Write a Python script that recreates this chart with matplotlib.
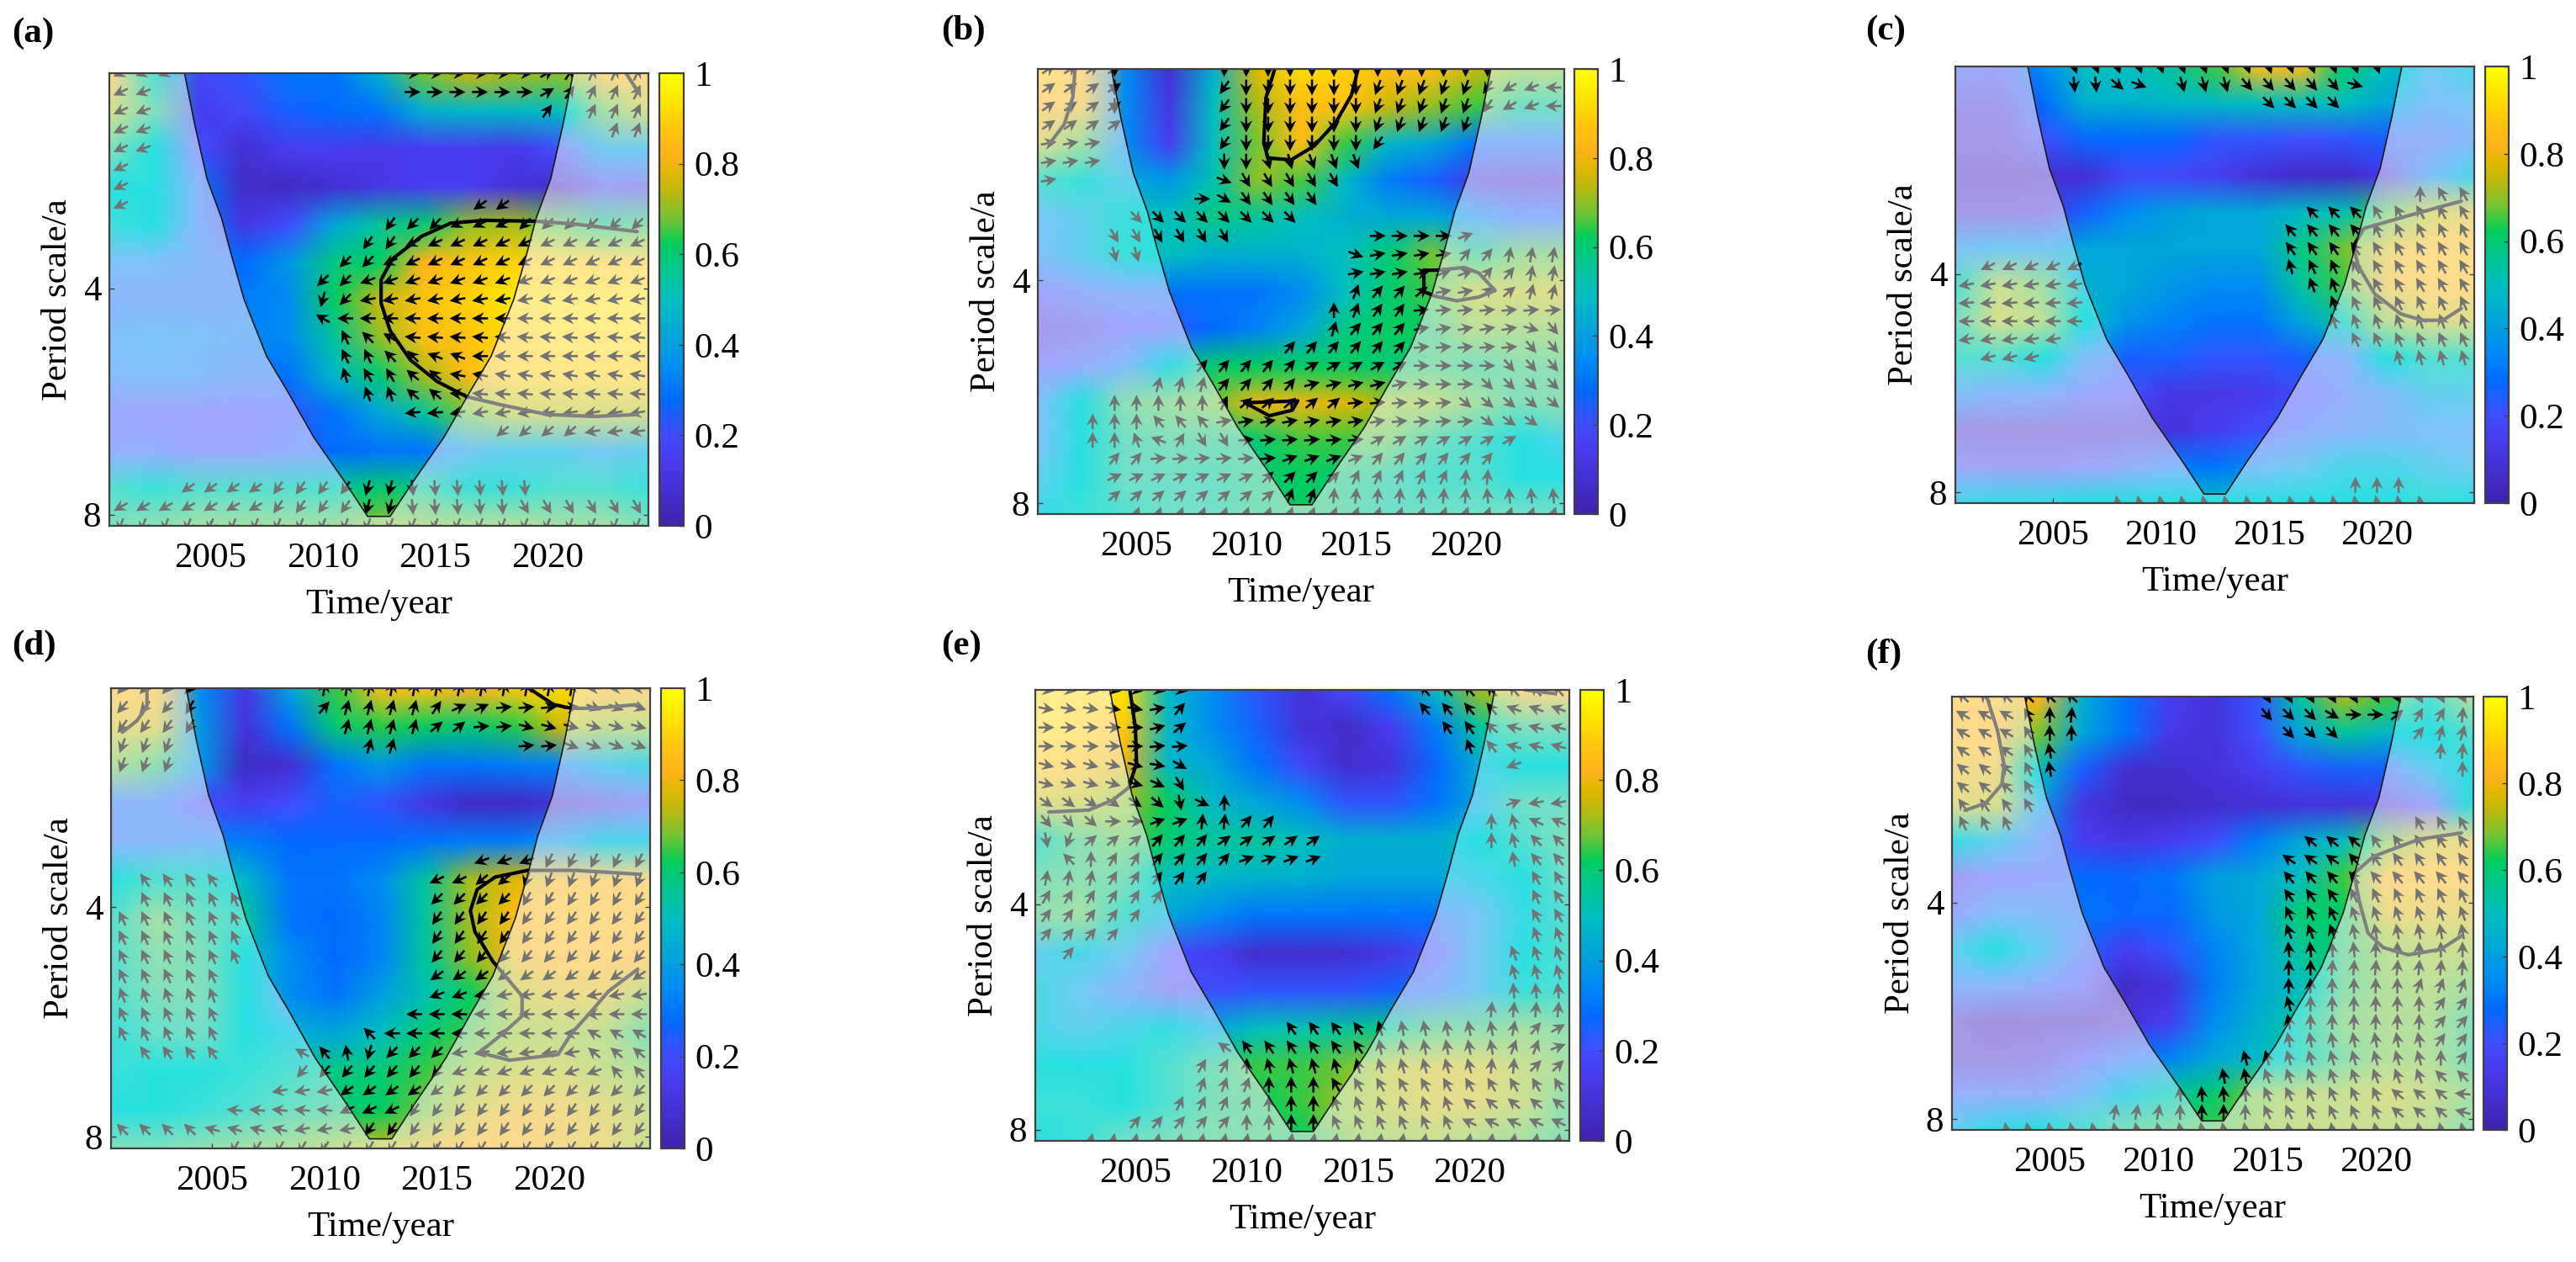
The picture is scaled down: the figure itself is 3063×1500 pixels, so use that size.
import numpy as np
import matplotlib
matplotlib.use('Agg')
import matplotlib.pyplot as plt
from matplotlib.colors import LinearSegmentedColormap
from matplotlib.patches import Polygon

plt.rcParams['font.family'] = ['Liberation Serif', 'DejaVu Serif']
plt.rcParams['font.size'] = 31

W, H = 3063, 1500

# grid of the coherence values (percent), rows go from top to bottom of a panel
col_years = [2000.5, 2002.5, 2004.5, 2006.5, 2008.5, 2010.5, 2012.5, 2014.5, 2016.5, 2018.5, 2020.5, 2022.5, 2024.5]
row_index = [0, 2, 4, 6, 8, 10, 12, 14, 16, 18, 20, 22, 24]

coh_a = [
    [85, 55, 18, 22, 30, 30, 45, 68, 75, 72, 70, 85, 85],
    [75, 60, 15, 18, 25, 28, 30, 45, 48, 48, 50, 65, 75],
    [60, 50, 20, 8, 15, 15, 13, 15, 15, 13, 20, 40, 40],
    [50, 50, 30, 6, 5, 8, 12, 15, 15, 10, 8, 18, 15],
    [52, 50, 30, 12, 20, 42, 55, 60, 70, 72, 65, 60, 62],
    [35, 35, 32, 28, 38, 58, 62, 82, 87, 90, 92, 90, 90],
    [30, 30, 30, 32, 35, 62, 75, 87, 90, 95, 97, 97, 97],
    [35, 37, 35, 33, 35, 55, 70, 85, 87, 92, 95, 95, 95],
    [33, 33, 33, 30, 30, 48, 60, 72, 85, 92, 92, 92, 92],
    [22, 20, 20, 20, 22, 30, 42, 55, 68, 75, 75, 75, 75],
    [25, 25, 22, 22, 25, 28, 30, 30, 38, 42, 42, 38, 42],
    [55, 52, 55, 55, 55, 55, 60, 58, 52, 52, 55, 55, 52],
    [60, 62, 65, 65, 65, 65, 70, 70, 68, 68, 65, 65, 60],
]
coh_b = [
    [92, 85, 35, 8, 45, 78, 92, 90, 85, 85, 75, 70, 70],
    [85, 82, 35, 12, 50, 72, 85, 86, 75, 70, 65, 58, 58],
    [78, 65, 35, 15, 50, 68, 85, 65, 48, 42, 30, 30, 30],
    [55, 52, 42, 38, 52, 70, 66, 48, 32, 25, 13, 10, 12],
    [38, 42, 52, 50, 58, 55, 50, 45, 43, 43, 35, 28, 28],
    [35, 42, 52, 50, 45, 45, 45, 50, 60, 68, 60, 65, 65],
    [20, 25, 30, 30, 30, 30, 35, 50, 60, 65, 75, 75, 78],
    [12, 15, 20, 22, 28, 33, 42, 58, 62, 62, 70, 68, 68],
    [20, 25, 33, 48, 60, 62, 62, 62, 60, 62, 60, 62, 62],
    [35, 50, 62, 65, 68, 80, 80, 78, 72, 72, 65, 60, 62],
    [35, 50, 58, 60, 60, 60, 65, 65, 65, 58, 55, 50, 45],
    [42, 50, 58, 58, 58, 60, 62, 60, 58, 55, 55, 50, 50],
    [48, 52, 55, 58, 58, 60, 62, 60, 58, 58, 58, 58, 58],
]
coh_c = [
    [25, 20, 35, 50, 50, 55, 65, 85, 85, 60, 50, 40, 45],
    [13, 13, 28, 45, 45, 47, 48, 50, 50, 50, 42, 35, 38],
    [10, 10, 20, 27, 28, 27, 22, 22, 20, 22, 25, 25, 32],
    [8, 8, 8, 8, 18, 18, 16, 9, 6, 6, 13, 35, 45],
    [10, 10, 12, 25, 35, 40, 42, 42, 48, 52, 65, 75, 80],
    [35, 40, 38, 42, 42, 42, 42, 42, 58, 68, 80, 87, 87],
    [55, 72, 65, 45, 42, 38, 35, 35, 55, 65, 82, 87, 87],
    [58, 75, 70, 50, 37, 33, 30, 30, 42, 55, 70, 78, 75],
    [55, 55, 50, 35, 25, 25, 22, 22, 25, 30, 50, 55, 55],
    [35, 30, 30, 22, 20, 12, 12, 13, 20, 25, 33, 42, 42],
    [10, 10, 10, 10, 12, 10, 15, 20, 25, 30, 33, 35, 35],
    [22, 18, 18, 20, 25, 32, 30, 35, 40, 45, 45, 42, 40],
    [45, 48, 48, 50, 50, 50, 50, 50, 50, 50, 50, 52, 50],
]
coh_d = [
    [85, 85, 35, 12, 42, 65, 85, 87, 82, 88, 92, 85, 85],
    [80, 78, 38, 10, 30, 60, 64, 62, 60, 64, 76, 72, 72],
    [68, 62, 38, 5, 8, 30, 38, 30, 30, 32, 33, 42, 45],
    [30, 30, 20, 15, 20, 25, 22, 12, 5, 5, 10, 15, 18],
    [30, 32, 33, 32, 28, 27, 28, 30, 32, 32, 38, 45, 45],
    [50, 55, 55, 47, 30, 30, 35, 55, 72, 78, 85, 85, 85],
    [55, 65, 58, 55, 30, 28, 33, 55, 72, 85, 87, 87, 85],
    [55, 62, 60, 50, 35, 28, 33, 55, 70, 82, 85, 85, 85],
    [55, 60, 60, 50, 35, 30, 40, 52, 62, 75, 80, 80, 70],
    [52, 57, 58, 50, 45, 42, 50, 60, 65, 72, 72, 70, 60],
    [52, 50, 50, 52, 55, 58, 60, 65, 72, 75, 75, 72, 68],
    [50, 50, 52, 55, 58, 60, 62, 68, 78, 82, 82, 78, 72],
    [60, 60, 62, 65, 68, 72, 75, 82, 85, 85, 82, 80, 72],
]
coh_e = [
    [95, 95, 93, 48, 35, 22, 10, 18, 30, 50, 72, 85, 85],
    [95, 93, 88, 48, 35, 25, 10, 6, 15, 32, 55, 60, 60],
    [90, 88, 80, 48, 42, 30, 18, 7, 10, 27, 45, 50, 50],
    [78, 75, 72, 62, 48, 42, 35, 22, 22, 30, 42, 58, 58],
    [55, 62, 65, 60, 55, 55, 50, 45, 45, 45, 50, 55, 60],
    [60, 62, 60, 50, 48, 46, 45, 42, 42, 42, 45, 50, 58],
    [62, 65, 55, 42, 35, 30, 30, 30, 30, 30, 38, 48, 55],
    [42, 45, 40, 20, 15, 7, 7, 8, 12, 20, 40, 50, 55],
    [45, 40, 30, 18, 20, 22, 22, 22, 25, 30, 40, 52, 55],
    [45, 42, 45, 48, 42, 50, 52, 55, 58, 62, 62, 65, 62],
    [50, 50, 50, 55, 60, 65, 65, 68, 75, 78, 78, 72, 65],
    [52, 52, 50, 55, 60, 62, 65, 72, 75, 78, 78, 72, 62],
    [50, 52, 58, 60, 62, 62, 62, 68, 70, 72, 68, 65, 60],
]
coh_f = [
    [85, 87, 82, 45, 30, 15, 10, 22, 55, 72, 65, 55, 68],
    [85, 85, 68, 42, 30, 13, 10, 20, 42, 55, 48, 50, 55],
    [82, 82, 50, 25, 8, 7, 10, 15, 22, 25, 25, 42, 50],
    [78, 75, 40, 12, 5, 5, 7, 8, 10, 10, 12, 20, 50],
    [48, 42, 30, 15, 12, 15, 20, 32, 42, 50, 68, 78, 80],
    [15, 20, 22, 28, 27, 30, 40, 42, 50, 65, 85, 87, 85],
    [22, 33, 33, 30, 27, 27, 38, 42, 60, 62, 80, 80, 78],
    [42, 50, 42, 25, 15, 22, 33, 42, 55, 62, 70, 72, 72],
    [30, 30, 25, 20, 6, 10, 32, 42, 50, 62, 68, 70, 65],
    [10, 7, 8, 8, 10, 15, 35, 45, 55, 65, 68, 68, 60],
    [10, 10, 12, 20, 28, 33, 42, 48, 55, 62, 68, 68, 60],
    [25, 25, 25, 35, 45, 55, 60, 68, 72, 72, 75, 72, 65],
    [42, 48, 50, 55, 60, 62, 65, 70, 72, 72, 72, 70, 62],
]

# phase arrows: first year, last year, first row, last row, angle in degrees
arrows_a = [
    (2001, 2001, 0, 7, 205), (2002, 2002, 0, 4, 200), (2003, 2003, 0, 0, 200),
    (2014, 2019, 0, 1, 0), (2020, 2020, 0, 1, 30), (2021, 2021, 0, 1, 55),
    (2022, 2024, 0, 2, 65), (2020, 2020, 2, 2, 55), (2023, 2024, 3, 3, 70),
    (2017, 2018, 7, 7, 215),
    (2013, 2013, 8, 8, 235), (2014, 2015, 8, 8, 225), (2016, 2018, 8, 8, 205), (2019, 2024, 8, 8, 225),
    (2012, 2013, 9, 9, 235), (2014, 2024, 9, 9, 205),
    (2011, 2012, 10, 10, 225), (2013, 2024, 10, 10, 205),
    (2010, 2011, 11, 11, 225), (2012, 2024, 11, 11, 200),
    (2010, 2010, 12, 12, 255), (2011, 2011, 12, 12, 225), (2012, 2024, 12, 12, 190),
    (2010, 2010, 13, 13, 150), (2011, 2024, 13, 13, 180),
    (2011, 2011, 14, 14, 115), (2012, 2012, 14, 14, 135), (2013, 2013, 14, 14, 150), (2014, 2024, 14, 14, 175),
    (2011, 2012, 15, 15, 115), (2013, 2014, 15, 15, 135), (2015, 2016, 15, 15, 160), (2017, 2024, 15, 15, 180),
    (2011, 2011, 16, 16, 105), (2012, 2013, 16, 16, 120), (2014, 2015, 16, 16, 140), (2016, 2024, 16, 16, 170),
    (2012, 2013, 17, 17, 110), (2014, 2015, 17, 17, 140), (2016, 2024, 17, 17, 175),
    (2014, 2015, 18, 18, 185), (2016, 2024, 18, 18, 190),
    (2018, 2021, 19, 19, 220), (2022, 2024, 19, 19, 190),
    (2004, 2007, 22, 22, 215), (2008, 2011, 22, 22, 235), (2012, 2013, 22, 22, 255), (2014, 2019, 22, 22, 275),
    (2001, 2007, 23, 23, 210), (2008, 2011, 23, 23, 235), (2012, 2013, 23, 23, 255), (2014, 2018, 23, 23, 275), (2019, 2024, 23, 23, 300),
    (2001, 2024, 24, 24, 250),
]
arrows_b = [
    (2001, 2004, 0, 3, 35), (2001, 2003, 4, 5, 10), (2001, 2001, 6, 6, 10),
    (2004, 2004, 0, 2, 270), (2009, 2009, 0, 0, 270), (2009, 2009, 1, 4, 235),
    (2010, 2015, 0, 4, 270), (2016, 2021, 0, 0, 270), (2016, 2019, 1, 3, 250), (2020, 2020, 1, 2, 250), (2021, 2021, 1, 2, 235),
    (2022, 2022, 1, 2, 210), (2023, 2023, 1, 2, 200), (2024, 2024, 1, 2, 180), (2020, 2020, 3, 3, 250), (2016, 2016, 4, 4, 235),
    (2009, 2010, 5, 5, 270), (2011, 2012, 5, 5, 285), (2013, 2015, 5, 5, 290),
    (2009, 2009, 6, 6, 340), (2010, 2014, 6, 6, 300),
    (2008, 2008, 7, 7, 0), (2009, 2009, 7, 7, 330), (2010, 2013, 7, 7, 305),
    (2005, 2012, 8, 8, 315), (2004, 2009, 9, 9, 300), (2004, 2005, 10, 10, 285),
    (2016, 2019, 9, 9, 0), (2020, 2020, 9, 9, 20),
    (2015, 2015, 10, 10, 340), (2016, 2019, 10, 10, 10), (2020, 2021, 10, 10, 50), (2022, 2024, 10, 10, 80),
    (2015, 2018, 11, 11, 10), (2019, 2020, 11, 11, 20), (2021, 2022, 11, 11, 50), (2023, 2024, 11, 11, 80),
    (2015, 2015, 12, 12, 70), (2016, 2017, 12, 12, 50), (2018, 2018, 12, 12, 40), (2019, 2020, 12, 12, 10), (2021, 2022, 12, 12, 40), (2023, 2024, 12, 12, 75),
    (2014, 2014, 13, 13, 90), (2015, 2015, 13, 13, 70), (2016, 2017, 13, 13, 55), (2018, 2024, 13, 13, 5),
    (2014, 2014, 14, 14, 75), (2015, 2017, 14, 14, 50), (2018, 2022, 14, 14, 10), (2023, 2023, 14, 14, 345), (2024, 2024, 14, 14, 310),
    (2012, 2017, 15, 15, 50), (2018, 2022, 15, 15, 5), (2023, 2024, 15, 15, 310),
    (2008, 2012, 16, 16, 50), (2013, 2017, 16, 16, 30), (2018, 2021, 16, 16, 0), (2022, 2024, 16, 16, 310),
    (2006, 2008, 17, 17, 75), (2009, 2012, 17, 17, 50), (2013, 2017, 17, 17, 15), (2018, 2020, 17, 17, 0), (2021, 2024, 17, 17, 315),
    (2004, 2008, 18, 18, 90), (2009, 2009, 18, 18, 65), (2010, 2014, 18, 18, 40), (2015, 2019, 18, 18, 5), (2020, 2024, 18, 18, 320),
    (2003, 2005, 19, 19, 90), (2006, 2008, 19, 19, 130), (2009, 2016, 19, 19, 10), (2017, 2020, 19, 19, 5), (2021, 2023, 19, 19, 325),
    (2003, 2004, 20, 20, 90), (2005, 2005, 20, 20, 110), (2006, 2006, 20, 20, 160), (2007, 2007, 20, 20, 60), (2008, 2009, 20, 20, 300), (2010, 2015, 20, 20, 5), (2016, 2022, 20, 20, 30),
    (2004, 2005, 21, 21, 50), (2006, 2011, 21, 21, 5), (2012, 2015, 21, 21, 20), (2016, 2021, 21, 21, 50),
    (2004, 2010, 22, 22, 25), (2011, 2014, 22, 22, 45), (2015, 2019, 22, 22, 65), (2020, 2021, 22, 22, 85),
    (2004, 2011, 23, 23, 40), (2012, 2013, 23, 23, 70), (2014, 2020, 23, 23, 85), (2021, 2024, 23, 23, 95),
    (2005, 2024, 24, 24, 70),
]
arrows_c = [
    (2006, 2020, 0, 0, 290),
    (2006, 2007, 1, 1, 275), (2008, 2008, 1, 1, 320), (2009, 2009, 1, 1, 340), (2011, 2013, 1, 1, 285), (2014, 2018, 1, 1, 310), (2019, 2019, 1, 1, 345),
    (2015, 2018, 2, 2, 315),
    (2022, 2022, 7, 7, 90), (2023, 2024, 7, 7, 120),
    (2017, 2019, 8, 8, 135), (2020, 2024, 8, 8, 120),
    (2016, 2019, 9, 9, 130), (2020, 2024, 9, 9, 115),
    (2016, 2019, 10, 10, 125), (2020, 2024, 10, 10, 120),
    (2016, 2016, 11, 11, 105), (2017, 2018, 11, 11, 115), (2019, 2024, 11, 11, 120), (2002, 2006, 11, 11, 205),
    (2017, 2018, 12, 12, 110), (2019, 2024, 12, 12, 120), (2001, 2006, 12, 12, 190),
    (2018, 2018, 13, 13, 110), (2019, 2024, 13, 13, 115), (2001, 2006, 13, 13, 185),
    (2018, 2024, 14, 14, 110), (2001, 2006, 14, 14, 180),
    (2019, 2024, 15, 15, 115), (2001, 2005, 15, 15, 190),
    (2021, 2024, 16, 16, 105), (2002, 2004, 16, 16, 195),
    (2019, 2021, 23, 23, 90), (2008, 2022, 24, 24, 100),
]
arrows_d = [
    (2001, 2004, 0, 0, 230), (2010, 2021, 0, 0, 80), (2022, 2024, 0, 0, 180),
    (2001, 2003, 1, 1, 230), (2004, 2004, 1, 1, 240), (2010, 2010, 1, 1, 50), (2011, 2014, 1, 1, 75), (2015, 2015, 1, 1, 55), (2016, 2017, 1, 1, 25), (2018, 2021, 1, 1, 5), (2022, 2024, 1, 1, 340),
    (2001, 2003, 2, 2, 235), (2004, 2004, 2, 2, 240), (2011, 2014, 2, 2, 75), (2015, 2016, 2, 2, 40), (2017, 2018, 2, 2, 5), (2019, 2024, 2, 2, 345),
    (2001, 2003, 3, 3, 250), (2012, 2013, 3, 3, 75), (2019, 2020, 3, 3, 5), (2021, 2024, 3, 3, 340),
    (2001, 2003, 4, 4, 250),
    (2017, 2019, 9, 9, 200), (2020, 2024, 9, 9, 245),
    (2002, 2005, 10, 10, 125), (2015, 2016, 10, 10, 205), (2017, 2018, 10, 10, 220), (2019, 2024, 10, 10, 250),
    (2002, 2006, 11, 11, 115), (2015, 2018, 11, 11, 225), (2019, 2024, 11, 11, 240),
    (2001, 2006, 12, 12, 115), (2015, 2024, 12, 12, 235),
    (2001, 2006, 13, 13, 115), (2015, 2024, 13, 13, 235),
    (2001, 2006, 14, 14, 115), (2015, 2024, 14, 14, 230),
    (2001, 2005, 15, 15, 115), (2015, 2024, 15, 15, 215),
    (2001, 2005, 16, 16, 110), (2015, 2016, 16, 16, 200), (2017, 2024, 16, 16, 190),
    (2001, 2005, 17, 17, 115), (2014, 2024, 17, 17, 180),
    (2001, 2005, 18, 18, 115), (2012, 2012, 18, 18, 135), (2013, 2021, 18, 18, 180), (2022, 2024, 18, 18, 150),
    (2002, 2005, 19, 19, 125), (2009, 2009, 19, 19, 150), (2010, 2010, 19, 19, 130), (2011, 2011, 19, 19, 100), (2012, 2012, 19, 19, 255), (2013, 2015, 19, 19, 225), (2016, 2021, 19, 19, 190), (2022, 2024, 19, 19, 140),
    (2009, 2015, 20, 20, 230), (2016, 2022, 20, 20, 200), (2023, 2024, 20, 20, 130),
    (2008, 2010, 21, 21, 190), (2011, 2015, 21, 21, 215), (2016, 2024, 21, 21, 225),
    (2006, 2010, 22, 22, 175), (2011, 2013, 22, 22, 205), (2014, 2024, 22, 22, 235),
    (2001, 2004, 23, 23, 135), (2005, 2008, 23, 23, 165), (2009, 2011, 23, 23, 190), (2012, 2024, 23, 23, 235),
    (2006, 2024, 24, 24, 240),
]
arrows_e = [
    (2001, 2007, 0, 0, 350), (2018, 2024, 0, 0, 130),
    (2001, 2005, 1, 1, 350), (2006, 2006, 1, 1, 10), (2007, 2007, 1, 1, 50), (2018, 2021, 1, 1, 130), (2022, 2024, 1, 1, 160),
    (2001, 2005, 2, 2, 0), (2006, 2006, 2, 2, 15), (2007, 2007, 2, 2, 40), (2019, 2020, 2, 2, 125), (2021, 2021, 2, 2, 140), (2022, 2024, 2, 2, 165),
    (2001, 2005, 3, 3, 0), (2006, 2007, 3, 3, 5), (2020, 2020, 3, 3, 110), (2021, 2021, 3, 3, 130), (2022, 2024, 3, 3, 165),
    (2001, 2005, 4, 4, 345), (2006, 2006, 4, 4, 350), (2007, 2007, 4, 4, 330), (2022, 2022, 4, 4, 200),
    (2001, 2005, 5, 5, 345), (2006, 2006, 5, 5, 335), (2007, 2007, 5, 5, 300),
    (2001, 2005, 6, 6, 325), (2006, 2006, 6, 6, 320), (2007, 2007, 6, 6, 280), (2008, 2008, 6, 6, 335), (2009, 2009, 6, 6, 90), (2022, 2022, 6, 6, 20), (2023, 2024, 6, 6, 190),
    (2001, 2002, 7, 7, 310), (2003, 2003, 7, 7, 320), (2004, 2005, 7, 7, 0), (2006, 2007, 7, 7, 20), (2008, 2009, 7, 7, 85), (2010, 2011, 7, 7, 50), (2021, 2021, 7, 7, 90), (2022, 2022, 7, 7, 105), (2023, 2024, 7, 7, 155),
    (2001, 2001, 8, 8, 280), (2002, 2002, 8, 8, 250), (2003, 2005, 8, 8, 40), (2006, 2008, 8, 8, 50), (2009, 2013, 8, 8, 35), (2021, 2021, 8, 8, 90), (2022, 2022, 8, 8, 105), (2023, 2024, 8, 8, 135),
    (2002, 2002, 9, 9, 135), (2003, 2003, 9, 9, 90), (2004, 2005, 9, 9, 60), (2006, 2009, 9, 9, 50), (2010, 2013, 9, 9, 20), (2022, 2022, 9, 9, 100), (2023, 2024, 9, 9, 130),
    (2001, 2003, 10, 10, 80), (2004, 2005, 10, 10, 60), (2006, 2008, 10, 10, 55), (2023, 2024, 10, 10, 120),
    (2001, 2006, 11, 11, 60), (2023, 2023, 11, 11, 115), (2024, 2024, 11, 11, 125),
    (2001, 2005, 12, 12, 55), (2023, 2024, 12, 12, 120),
    (2001, 2004, 13, 13, 50), (2023, 2024, 13, 13, 110),
    (2002, 2002, 14, 14, 50), (2022, 2024, 14, 14, 110),
    (2022, 2024, 15, 15, 105), (2022, 2024, 16, 16, 95), (2021, 2024, 17, 17, 85),
    (2012, 2015, 18, 18, 125), (2016, 2016, 18, 18, 105), (2017, 2021, 18, 18, 100), (2022, 2022, 18, 18, 80), (2023, 2023, 18, 18, 50), (2024, 2024, 18, 18, 30),
    (2009, 2009, 19, 19, 145), (2010, 2015, 19, 19, 125), (2016, 2021, 19, 19, 100), (2022, 2023, 19, 19, 70), (2024, 2024, 19, 19, 20),
    (2008, 2009, 20, 20, 60), (2010, 2010, 20, 20, 90), (2011, 2020, 20, 20, 105), (2021, 2022, 20, 20, 85), (2023, 2024, 20, 20, 45),
    (2008, 2010, 21, 21, 70), (2011, 2013, 21, 21, 90), (2014, 2024, 21, 21, 120),
    (2007, 2010, 22, 22, 65), (2011, 2013, 22, 22, 90), (2014, 2019, 22, 22, 110), (2020, 2024, 22, 22, 140),
    (2005, 2009, 23, 23, 50), (2010, 2013, 23, 23, 90), (2014, 2019, 23, 23, 115), (2020, 2024, 23, 23, 155),
    (2003, 2024, 24, 24, 80),
]
arrows_f = [
    (2001, 2006, 0, 0, 135), (2015, 2024, 0, 0, 300),
    (2001, 2003, 1, 1, 150), (2004, 2004, 1, 1, 120), (2005, 2005, 1, 1, 90), (2006, 2006, 1, 1, 85), (2015, 2015, 1, 1, 310), (2016, 2017, 1, 1, 315), (2018, 2018, 1, 1, 330), (2019, 2020, 1, 1, 0), (2021, 2021, 1, 1, 40), (2022, 2023, 1, 1, 60), (2024, 2024, 1, 1, 85),
    (2001, 2003, 2, 2, 150), (2004, 2004, 2, 2, 120), (2005, 2006, 2, 2, 90), (2016, 2018, 2, 2, 315), (2022, 2022, 2, 2, 50), (2023, 2024, 2, 2, 75),
    (2001, 2003, 3, 3, 145), (2004, 2004, 3, 3, 120), (2005, 2005, 3, 3, 100), (2023, 2024, 3, 3, 85),
    (2001, 2003, 4, 4, 140), (2004, 2004, 4, 4, 115), (2005, 2005, 4, 4, 100), (2024, 2024, 4, 4, 90),
    (2001, 2003, 5, 5, 140), (2004, 2004, 5, 5, 120),
    (2001, 2003, 6, 6, 125), (2004, 2004, 6, 6, 120),
    (2001, 2003, 7, 7, 115), (2022, 2024, 7, 7, 120),
    (2017, 2019, 8, 8, 140), (2020, 2024, 8, 8, 125),
    (2016, 2018, 9, 9, 145), (2019, 2019, 9, 9, 130), (2020, 2024, 9, 9, 125),
    (2016, 2024, 10, 10, 130),
    (2016, 2018, 11, 11, 125), (2019, 2024, 11, 11, 115),
    (2016, 2018, 12, 12, 115), (2019, 2024, 12, 12, 110),
    (2016, 2018, 13, 13, 110), (2019, 2024, 13, 13, 100),
    (2016, 2019, 14, 14, 95), (2020, 2024, 14, 14, 90),
    (2016, 2017, 15, 15, 90), (2018, 2024, 15, 15, 85),
    (2016, 2021, 16, 16, 90), (2022, 2024, 16, 16, 70),
    (2016, 2016, 17, 17, 105), (2017, 2022, 17, 17, 90), (2023, 2024, 17, 17, 55),
    (2016, 2016, 18, 18, 100), (2017, 2022, 18, 18, 90), (2023, 2024, 18, 18, 50),
    (2016, 2022, 19, 19, 100), (2023, 2024, 19, 19, 55),
    (2014, 2022, 20, 20, 105), (2023, 2023, 20, 20, 90), (2024, 2024, 20, 20, 55),
    (2013, 2014, 21, 21, 100), (2015, 2022, 21, 21, 110), (2023, 2024, 21, 21, 135),
    (2011, 2014, 22, 22, 95), (2015, 2020, 22, 22, 115), (2021, 2023, 22, 22, 140), (2024, 2024, 22, 22, 175),
    (2008, 2010, 23, 23, 80), (2011, 2014, 23, 23, 90), (2015, 2020, 23, 23, 115), (2021, 2023, 23, 23, 140), (2024, 2024, 23, 23, 165),
    (2003, 2024, 24, 24, 100),
]

# significance contours as (year, row)
lines_a = [
    [(2024, 8.4), (2021.25, 8), (2019.5, 7.85), (2017.2, 7.8), (2015.7, 7.95), (2014.4, 8.65), (2013.1, 9.85), (2012.6, 10.95), (2012.6, 12.2), (2013, 13.65), (2013.9, 15.2), (2015.1, 16.35), (2016.4, 17.15), (2018, 17.6), (2020, 18.1), (2022.1, 18.2), (2024, 18.1)],
    [(2023.5, 0), (2024.1, 1.1)],
]
lines_b = [
    [(2002.2, 0), (2002.1, 1.5), (2001.7, 3), (2001.05, 4)],
    [(2011.3, 0), (2010.9, 1.55), (2010.8, 4), (2011, 4.8), (2012.05, 4.9), (2013.1, 4.15), (2014.1, 2.85), (2014.8, 1.4), (2015.1, 0)],
    [(2009.95, 18), (2012.35, 17.9), (2012.1, 18.4), (2011.05, 18.7), (2009.95, 18)],
    [(2018.1, 10.85), (2018.7, 10.85), (2019.95, 10.7), (2020.6, 11), (2021.35, 11.95), (2020.6, 12.3), (2019.6, 12.5), (2018.6, 12.25), (2018.1, 12), (2018.1, 10.85)],
]
lines_c = [
    [(2023.9, 7.4), (2021.45, 8.2), (2019.4, 8.9), (2018.9, 9.9), (2019.15, 11), (2019.9, 12.5), (2021.1, 13.6), (2022.1, 13.95), (2023.05, 13.95), (2023.9, 13.3)],
]
lines_d = [
    [(2002.1, 0), (2002.1, 0.95), (2001.65, 1.7), (2001, 2.3)],
    [(2019.1, 0), (2020.2, 0.85), (2021, 1.05), (2022, 1.05), (2023.95, 0.85)],
    [(2024, 9.7), (2021.2, 9.5), (2019.05, 9.5), (2017.6, 9.85), (2016.8, 10.5), (2016.5, 11.6), (2016.7, 12.7), (2017.5, 14.25), (2018.8, 16.05), (2018.8, 17.1), (2017.95, 18), (2016.9, 19), (2018.25, 19.4), (2020.4, 19.1), (2021, 18), (2021.85, 16.9), (2022.65, 15.8), (2023.95, 14.65)],
]
lines_e = [
    [(2004.75, 0), (2005, 2), (2005.05, 3.9), (2004.7, 5.2), (2004, 5.85), (2002.9, 6.4), (2001.1, 6.5)],
    [(2022.5, 0), (2023.85, 0.2)],
]
lines_f = [
    [(2002.1, 0), (2002.6, 1.9), (2002.9, 3.8), (2002.8, 4.85), (2002.05, 5.9), (2001.1, 6.3)],
    [(2023.95, 7.55), (2022, 7.9), (2019.9, 8.85), (2019, 9.8), (2019.25, 11.35), (2019.65, 13.1), (2020.35, 13.9), (2021.5, 14.3), (2023, 14), (2023.95, 13.25)],
]

# cone of influence, left side as (year, row), right side mirrors it around 2012.5
coi_years = [2003.85, 2004.3, 2004.85, 2005.5, 2005.9, 2006.5, 2007.5, 2008.5, 2009.6, 2011.0, 2012.0]
coi_rows = [0, 2.7, 5.6, 7.7, 9.5, 12, 15, 17, 19.3, 21.7, 23.5]

year_ticks = [2005, 2010, 2015, 2020]
period_rows = [11.4, 23.4]
period_labels = ['4', '8']
cbar_ticks = [0, 0.2, 0.4, 0.6, 0.8, 1]
cbar_labels = ['0', '0.2', '0.4', '0.6', '0.8', '1']

# pixel boxes: left, right, top, bottom, colorbar left, colorbar right
panels = [
    ('(a)', coh_a, arrows_a, lines_a, (130, 771, 87, 625, 784, 813), (14, 40)),
    ('(b)', coh_b, arrows_b, lines_b, (1234, 1860, 82, 611, 1872, 1900), (1119, 37)),
    ('(c)', coh_c, arrows_c, lines_c, (2325, 2942, 79, 598, 2955, 2983), (2218, 37)),
    ('(d)', coh_d, arrows_d, lines_d, (132, 773, 818, 1365, 786, 814), (14, 768)),
    ('(e)', coh_e, arrows_e, lines_e, (1231, 1866, 820, 1356, 1879, 1907), (1119, 768)),
    ('(f)', coh_f, arrows_f, lines_f, (2321, 2941, 828, 1343, 2953, 2981), (2218, 778)),
]

main_cmap = LinearSegmentedColormap.from_list('coh', [
    (0, (0.25, 0.13, 0.68)), (0.15, (0.28, 0.24, 0.95)), (0.2, (0.25, 0.3, 1)), (0.28, (0, 0.42, 1)),
    (0.35, (0, 0.55, 0.95)), (0.42, (0, 0.65, 0.85)), (0.5, (0, 0.75, 0.75)), (0.57, (0, 0.78, 0.55)),
    (0.62, (0, 0.8, 0.38)), (0.635, (0.1, 0.8, 0.3)), (0.68, (0.45, 0.77, 0.2)), (0.74, (0.75, 0.72, 0.05)),
    (0.78, (0.88, 0.72, 0)), (0.82, (1, 0.7, 0.1)), (0.88, (1, 0.78, 0.05)), (0.93, (1, 0.88, 0)), (1, (1, 1, 0)),
])
# colours outside the cone, washed out
pale_cmap = LinearSegmentedColormap.from_list('pale', [
    (0, (0.6, 0.5, 0.8)), (0.1, (0.65, 0.6, 0.9)), (0.2, (0.63, 0.65, 1)), (0.3, (0.55, 0.72, 1)),
    (0.4, (0.45, 0.8, 0.95)), (0.5, (0.15, 0.88, 0.88)), (0.58, (0.45, 0.88, 0.78)), (0.65, (0.65, 0.88, 0.65)),
    (0.75, (0.85, 0.88, 0.55)), (0.85, (1, 0.85, 0.55)), (0.95, (1, 0.93, 0.55)), (1, (1, 0.95, 0.55)),
])


def arrow_field(blocks):
    xs, ys, us, vs = [], [], [], []
    for y0, y1, r0, r1, ang in blocks:
        for yr in range(y0, y1 + 1):
            for r in range(r0, r1 + 1):
                xs.append(yr)
                ys.append(r)
                us.append(19 * np.cos(np.radians(ang)))
                vs.append(19 * np.sin(np.radians(ang)))
    return xs, ys, us, vs


fig = plt.figure(figsize=(W / 100, H / 100), dpi=100)
edge = '0.25'

for label, coh, arrows, lines, box, lab_pos in panels:
    l, r, t, b, cl, cr = box
    ax = fig.add_axes([l / W, 1 - b / H, (r - l) / W, (b - t) / H])
    z = np.array(coh) / 100

    ax.pcolormesh(col_years, row_index, z, cmap=pale_cmap, vmin=0, vmax=1, shading='gouraud')
    mesh = ax.pcolormesh(col_years, row_index, z, cmap=main_cmap, vmin=0, vmax=1, shading='gouraud', zorder=3)

    left = list(zip(coi_years, coi_rows))
    right = [(4025 - x, y) for x, y in left[::-1]]
    cone = Polygon(left + right, closed=False, fill=False, edgecolor='0.1', lw=1.2, zorder=6)
    ax.add_patch(cone)
    mesh.set_clip_path(cone)

    xs, ys, us, vs = arrow_field(arrows)
    kw = dict(angles='uv', scale_units='dots', scale=1, units='dots', width=2.6, headwidth=5.5,
              headlength=5.5, headaxislength=4, pivot='mid')
    ax.quiver(xs, ys, us, vs, color='0.45', zorder=2, **kw)
    q = ax.quiver(xs, ys, us, vs, color='k', zorder=4, **kw)
    q.set_clip_path(cone)
    for pts in lines:
        px, py = zip(*pts)
        ax.plot(px, py, color='0.5', lw=3, zorder=2.5, solid_capstyle='round')
        ln, = ax.plot(px, py, color='k', lw=3, zorder=5, solid_capstyle='round')
        ln.set_clip_path(cone)

    ax.set_xlim(2000.5, 2024.5)
    ax.set_ylim(24, 0)
    ax.set_xticks(year_ticks)
    ax.set_yticks(period_rows)
    ax.set_yticklabels(period_labels)
    ax.tick_params(direction='in', length=4.5, width=1, top=True, right=True, color=edge, pad=14)
    ax.tick_params(axis='y', pad=7)
    ax.set_xlabel('Time/year', labelpad=12)
    ax.set_ylabel('Period scale/a', labelpad=8)
    for sp in ax.spines.values():
        sp.set_edgecolor(edge)
        sp.set_linewidth(1.6)
        sp.set_zorder(8)

    cax = fig.add_axes([cl / W, 1 - b / H, (cr - cl) / W, (b - t) / H])
    cb = fig.colorbar(mesh, cax=cax, ticks=cbar_ticks)
    cb.ax.set_yticklabels(cbar_labels)
    cb.ax.tick_params(direction='in', length=4.5, width=1, color=edge, pad=9)
    cb.outline.set_edgecolor(edge)
    cb.outline.set_linewidth(1.6)

    fig.text(lab_pos[0] / W, 1 - lab_pos[1] / H, label, fontweight='bold', fontsize=31, va='center', ha='left')

fig.savefig('out.png', dpi=100)
